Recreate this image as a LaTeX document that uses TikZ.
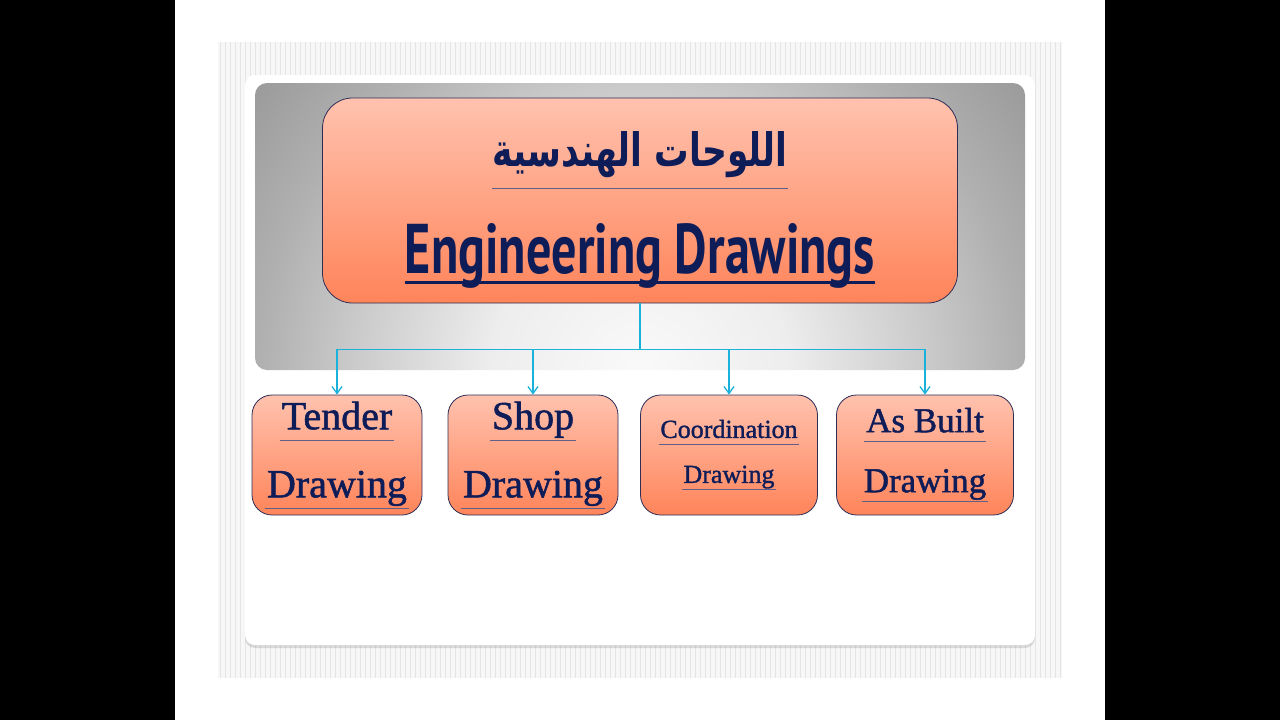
\documentclass[tikz,border=0pt]{standalone}
\usepackage{fontspec}
\setmainfont{Liberation Serif}
\newfontfamily\sheetfont{Liberation Serif}[FakeBold=1.3]
\newfontfamily\headfont{PT Sans}
\newfontfamily\arabicfont[Script=Arabic]{DejaVu Sans}
\TeXXeTstate=1
\usetikzlibrary{arrows.meta,shadows}

\definecolor{inkblue}{RGB}{14,28,88}
\definecolor{rimblue}{RGB}{45,45,85}
\definecolor{salmontop}{RGB}{255,194,174}
\definecolor{salmonbot}{RGB}{255,132,90}
\definecolor{linkcyan}{RGB}{25,178,218}
\definecolor{rulegray}{RGB}{95,95,135}

\pgfdeclareradialshading{panelglow}{\pgfpointorigin}{color(0bp)=(gray!4); color(7.5bp)=(gray!14); color(14.5bp)=(gray!42); color(19bp)=(gray!62); color(24.5bp)=(gray!80); color(50bp)=(gray!80)}

% text with a thin line under it
\newcommand{\lined}[1]{\setbox0\hbox{#1}\hbox{\kern-0.05em\rlap{\color{rulegray}\rule[-0.28em]{\dimexpr\wd0+0.1em\relax}{0.7pt}}\kern0.05em\box0}}

\begin{document}
\begin{tikzpicture}
  [
    x=1pt, y=-1pt,
    level 1/.style={sibling distance=196pt, level distance=254.5pt},
    headbox/.style={draw=rimblue, line width=0.8pt, rounded corners=30pt, top color=salmontop, bottom color=salmonbot, minimum width=635pt, minimum height=205pt},
    sheet/.style={draw=rimblue, line width=0.8pt, rounded corners=20pt, top color=salmontop, bottom color=salmonbot, minimum width=170pt, minimum height=120pt, align=center, text=inkblue, inner sep=0pt, xshift=-9pt},
    edge from parent/.style={draw=linkcyan, line width=1.3pt, -{Straight Barb[length=7pt, width=10pt]}},
    edge from parent path={(\tikzparentnode.south) -- ++(0pt,-46pt) -| (\tikzchildnode.north)}
  ]
  \useasboundingbox (0,0) rectangle (1280,720);
  \fill[white] (0,0) rectangle (1280,720);
  \fill[black] (0,0) rectangle (175,720);
  \fill[black] (1105,0) rectangle (1280,720);

  % striped frame and white sheet
  \fill[gray!6] (218,42) rectangle (1062,678);
  \foreach \x in {220,225,...,1060}
    \draw[gray!20, line width=1pt] (\x,42) -- (\x,678);
  \fill[white, rounded corners=10pt, drop shadow={shadow xshift=0pt, shadow yshift=-3pt, opacity=0.25}] (245,75) rectangle (1035,645);

  % grey panel
  \begin{scope}
    \clip[rounded corners=12pt] (255,83) rectangle (1025,370);
    \shade[shading=panelglow] (140,-125) rectangle (1140,875);
  \end{scope}

  \node[headbox] (drawings) at (640,200.5) {}
    child {node[sheet, font=\sheetfont\fontsize{40}{68}\selectfont] (tender) {\lined{Tender}\\\lined{Drawing}}}
    child {node[sheet, font=\sheetfont\fontsize{40}{68}\selectfont] (shop) {\lined{Shop}\\\lined{Drawing}}}
    child {node[sheet, minimum width=177pt, font=\sheetfont\fontsize{26}{45}\selectfont] (coordination) {\lined{Coordination}\\\lined{Drawing}}}
    child {node[sheet, minimum width=177pt, font=\sheetfont\fontsize{35}{60}\selectfont] (asbuilt) {\lined{As Built}\\\lined{Drawing}}};

  \node[anchor=base, inner sep=0pt, text=inkblue] (arabic) at (640,166)
    {\resizebox{295pt}{35pt}{\arabicfont\bfseries\beginR اللوحات الهندسية\endR}};
  \draw[rulegray, line width=0.8pt] ([yshift=-22pt]arabic.base west) -- ([yshift=-22pt]arabic.base east);

  \node[anchor=base, inner sep=0pt, text=inkblue] (english) at (640,273)
    {\resizebox{470pt}{50pt}{\headfont\bfseries Engineering Drawings}};
  \draw[inkblue, line width=3pt] ([yshift=-9pt]english.base west) -- ([yshift=-9pt]english.base east);
\end{tikzpicture}
\end{document}
